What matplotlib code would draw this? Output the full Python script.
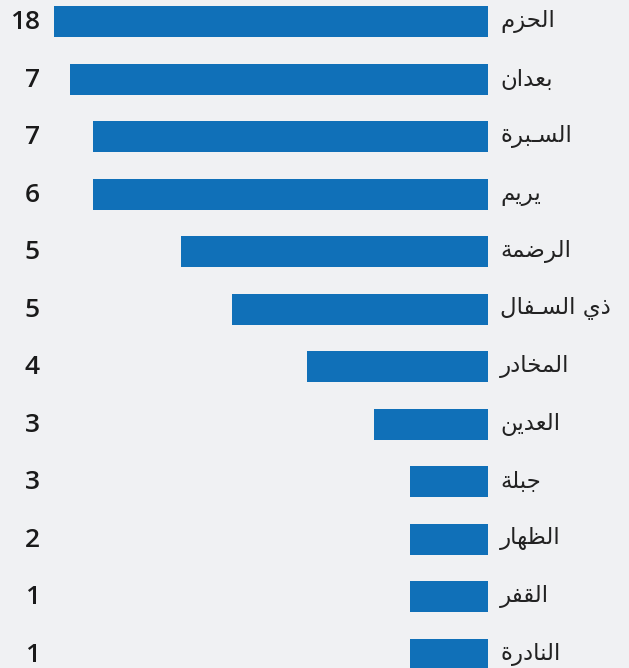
import matplotlib
matplotlib.use("Agg")
import matplotlib.pyplot as plt
import matplotlib.transforms as mtransforms

# Row labels (top to bottom), the count printed on the left, and bar length
# (relative, longest = 100).
districts = ["الحزم", "بعدان", "السـبرة", "يريم", "الرضمة", "ذي السـفال",
             "المخادر", "العدين", "جبلة", "الظهار", "القفر", "النادرة"]
counts = [18, 7, 7, 6, 5, 5, 4, 3, 3, 2, 1, 1]
bar_length = [100, 96.3, 91.0, 91.0, 70.7, 59.1, 41.8, 26.3, 18.0, 18.0, 18.0, 18.0]

BG = "#f0f1f3"
BAR = "#1070b8"
TEXT = "#222222"

# Arabic shaping: matplotlib has no text shaping, so map letters to their
# presentation forms (isolated, final, initial, medial) and reverse for display.
FORMS = {
    "ا": ("\uFE8D", "\uFE8E", None, None),
    "ب": ("\uFE8F", "\uFE90", "\uFE91", "\uFE92"),
    "ة": ("\uFE93", "\uFE94", None, None),
    "ت": ("\uFE95", "\uFE96", "\uFE97", "\uFE98"),
    "ج": ("\uFE9D", "\uFE9E", "\uFE9F", "\uFEA0"),
    "ح": ("\uFEA1", "\uFEA2", "\uFEA3", "\uFEA4"),
    "خ": ("\uFEA5", "\uFEA6", "\uFEA7", "\uFEA8"),
    "د": ("\uFEA9", "\uFEAA", None, None),
    "ذ": ("\uFEAB", "\uFEAC", None, None),
    "ر": ("\uFEAD", "\uFEAE", None, None),
    "ز": ("\uFEAF", "\uFEB0", None, None),
    "س": ("\uFEB1", "\uFEB2", "\uFEB3", "\uFEB4"),
    "ض": ("\uFEBD", "\uFEBE", "\uFEBF", "\uFEC0"),
    "ظ": ("\uFEC5", "\uFEC6", "\uFEC7", "\uFEC8"),
    "ع": ("\uFEC9", "\uFECA", "\uFECB", "\uFECC"),
    "ف": ("\uFED1", "\uFED2", "\uFED3", "\uFED4"),
    "ق": ("\uFED5", "\uFED6", "\uFED7", "\uFED8"),
    "ل": ("\uFEDD", "\uFEDE", "\uFEDF", "\uFEE0"),
    "م": ("\uFEE1", "\uFEE2", "\uFEE3", "\uFEE4"),
    "ن": ("\uFEE5", "\uFEE6", "\uFEE7", "\uFEE8"),
    "ه": ("\uFEE9", "\uFEEA", "\uFEEB", "\uFEEC"),
    "و": ("\uFEED", "\uFEEE", None, None),
    "ي": ("\uFEF1", "\uFEF2", "\uFEF3", "\uFEF4"),
    "ـ": ("ـ", "ـ", "ـ", "ـ"),
}


def joins_next(ch):
    return ch in FORMS and FORMS[ch][2] is not None


def shape(text):
    out = []
    for i, ch in enumerate(text):
        if ch not in FORMS:
            out.append(ch)
            continue
        prev = text[i - 1] if i > 0 else ""
        nxt = text[i + 1] if i + 1 < len(text) else ""
        from_prev = joins_next(prev)
        to_next = joins_next(ch) and nxt in FORMS
        iso, fin, ini, med = FORMS[ch]
        if from_prev and to_next:
            out.append(med)
        elif from_prev:
            out.append(fin)
        elif to_next:
            out.append(ini)
        else:
            out.append(iso)
    return "".join(reversed(out))


W, H, DPI = 629, 668, 100
fig = plt.figure(figsize=(W / DPI, H / DPI), dpi=DPI, facecolor=BG)

# Axis spans 54px..488px horizontally; rows every 57.5px starting at 21.5px.
pitch = 57.5
top = -21.5 / pitch
bottom = (H - 21.5) / pitch
ax = fig.add_axes([54 / W, 0, (488 - 54) / W, 1])
ax.set_facecolor(BG)
ax.set_xlim(100, 0)
ax.set_ylim(bottom, top)
ax.axis("off")

rows = list(range(len(districts)))
ax.barh(rows, bar_length, height=31 / pitch, color=BAR, zorder=2)

trans = mtransforms.blended_transform_factory(fig.transFigure, ax.transData)
for r, name, n in zip(rows, districts, counts):
    ax.text(500 / W, r, shape(name), transform=trans, ha="left", va="center",
            fontsize=16.5, color=TEXT, family=["DejaVu Sans"])
    ax.text(40 / W, r + 0.02, str(n), transform=trans, ha="right", va="center",
            fontsize=19, fontweight="semibold", color="#1a1a1a",
            family=["Open Sans", "DejaVu Sans"])

fig.savefig("out.png", dpi=DPI, facecolor=BG)
